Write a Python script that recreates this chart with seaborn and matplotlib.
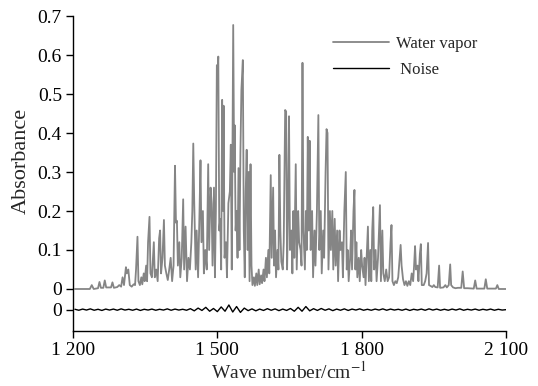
import numpy as np
import pandas as pd
import matplotlib
matplotlib.use("Agg")
import matplotlib.pyplot as plt
import seaborn as sns

# water vapor spectrum (peaks and troughs)
vapor_wn = [1204, 1235, 1239, 1243, 1252, 1255, 1258, 1263, 1266, 1269, 1279, 1282, 1285,
            1292, 1296, 1300, 1303, 1306, 1310, 1312, 1315, 1318, 1322, 1326, 1329, 1331,
            1333, 1334, 1336, 1339, 1342, 1344, 1347, 1349, 1352, 1354, 1356, 1359, 1361,
            1364, 1368, 1370, 1373, 1376, 1379, 1381, 1383, 1386, 1389, 1391, 1394, 1397,
            1400, 1403, 1406, 1409, 1412, 1414, 1416, 1418, 1421, 1423, 1426, 1429, 1431,
            1434, 1437, 1440, 1443, 1446, 1448, 1450, 1452, 1455, 1457, 1460, 1463, 1465,
            1467, 1470, 1472, 1475, 1478, 1481, 1483, 1486, 1488, 1490, 1493, 1495, 1497,
            1499, 1501, 1502, 1504, 1506, 1508, 1510, 1512, 1513, 1515, 1518, 1520, 1523,
            1526, 1528, 1530, 1533, 1535, 1536, 1538, 1540, 1542, 1544, 1546, 1548, 1550,
            1553, 1555, 1557, 1559, 1561, 1563, 1565, 1567, 1569, 1571, 1573, 1576, 1578,
            1581, 1583, 1586, 1588, 1591, 1593, 1596, 1598, 1601, 1603, 1606, 1608, 1611,
            1613, 1616, 1618, 1620, 1622, 1625, 1627, 1629, 1631, 1633, 1636, 1638, 1641,
            1643, 1645, 1647, 1649, 1651, 1654, 1656, 1658, 1660, 1663, 1665, 1668, 1670,
            1673, 1675, 1677, 1679, 1682, 1684, 1686, 1688, 1690, 1692, 1694, 1697, 1699,
            1702, 1704, 1707, 1710, 1712, 1715, 1717, 1720, 1722, 1725, 1727, 1729, 1731,
            1734, 1736, 1739, 1741, 1744, 1746, 1749, 1751, 1754, 1756, 1759, 1761, 1764,
            1767, 1769, 1771, 1773, 1776, 1778, 1780, 1783, 1785, 1787, 1789, 1791, 1794,
            1796, 1799, 1801, 1804, 1806, 1808, 1811, 1813, 1815, 1818, 1820, 1822, 1824,
            1826, 1829, 1831, 1834, 1836, 1838, 1840, 1843, 1845, 1848, 1851, 1854, 1857,
            1860, 1862, 1864, 1867, 1870, 1873, 1876, 1879, 1881, 1883, 1886, 1889, 1892,
            1895, 1898, 1901, 1904, 1907, 1909, 1911, 1913, 1916, 1918, 1921, 1923, 1925,
            1929, 1932, 1935, 1938, 1940, 1943, 1947, 1950, 1953, 1958, 1961, 1963, 1970,
            1974, 1977, 1981, 1984, 1986, 1990, 1995, 2000, 2007, 2010, 2013, 2020, 2033,
            2036, 2039, 2055, 2058, 2061, 2079, 2082, 2085, 2104]
vapor_abs = [0.0, 0.0, 0.01, 0.0, 0.002, 0.018, 0.003, 0.003, 0.022, 0.004, 0.004, 0.017, 0.003,
             0.005, 0.01, 0.006, 0.03, 0.01, 0.056, 0.04, 0.05, 0.01, 0.006, 0.012, 0.01, 0.05,
             0.105, 0.134, 0.02, 0.01, 0.03, 0.012, 0.04, 0.02, 0.06, 0.02, 0.12, 0.185, 0.04,
             0.03, 0.12, 0.03, 0.05, 0.02, 0.13, 0.15, 0.04, 0.08, 0.177, 0.06, 0.04, 0.023,
             0.05, 0.08, 0.02, 0.06, 0.316, 0.17, 0.175, 0.06, 0.12, 0.03, 0.08, 0.23, 0.05,
             0.16, 0.02, 0.08, 0.05, 0.12, 0.2, 0.373, 0.22, 0.05, 0.15, 0.03, 0.2, 0.33,
             0.12, 0.2, 0.04, 0.1, 0.05, 0.32, 0.1, 0.26, 0.22, 0.06, 0.26, 0.03, 0.2,
             0.574, 0.57, 0.596, 0.15, 0.18, 0.05, 0.485, 0.2, 0.47, 0.08, 0.12, 0.03, 0.22,
             0.25, 0.37, 0.05, 0.677, 0.3, 0.42, 0.15, 0.2, 0.08, 0.31, 0.1, 0.35, 0.51,
             0.587, 0.15, 0.03, 0.25, 0.357, 0.1, 0.3, 0.02, 0.32, 0.06, 0.01, 0.03, 0.008,
             0.04, 0.01, 0.05, 0.012, 0.035, 0.015, 0.05, 0.02, 0.08, 0.03, 0.1, 0.04, 0.292,
             0.08, 0.26, 0.06, 0.15, 0.03, 0.1, 0.05, 0.344, 0.15, 0.07, 0.05, 0.12, 0.459,
             0.455, 0.05, 0.2, 0.443, 0.1, 0.15, 0.04, 0.2, 0.08, 0.32, 0.05, 0.2, 0.12,
             0.1, 0.06, 0.58, 0.15, 0.05, 0.2, 0.1, 0.39, 0.15, 0.38, 0.1, 0.2, 0.03,
             0.15, 0.06, 0.2, 0.446, 0.1, 0.2, 0.04, 0.15, 0.08, 0.3, 0.41, 0.4, 0.05,
             0.2, 0.1, 0.2, 0.05, 0.18, 0.06, 0.15, 0.02, 0.15, 0.1, 0.12, 0.03, 0.2,
             0.30, 0.05, 0.1, 0.02, 0.08, 0.15, 0.05, 0.2, 0.254, 0.05, 0.12, 0.03, 0.08,
             0.02, 0.1, 0.06, 0.03, 0.08, 0.01, 0.1, 0.16, 0.02, 0.1, 0.02, 0.15, 0.21,
             0.05, 0.1, 0.02, 0.08, 0.15, 0.215, 0.02, 0.15, 0.04, 0.02, 0.05, 0.02, 0.03,
             0.12, 0.164, 0.02, 0.01, 0.02, 0.015, 0.03, 0.08, 0.113, 0.06, 0.025, 0.01, 0.02,
             0.008, 0.02, 0.01, 0.04, 0.02, 0.06, 0.11, 0.05, 0.06, 0.02, 0.09, 0.115, 0.01,
             0.01, 0.02, 0.04, 0.118, 0.01, 0.008, 0.005, 0.01, 0.005, 0.004, 0.06, 0.003, 0.004,
             0.01, 0.004, 0.01, 0.063, 0.01, 0.004, 0.002, 0.003, 0.003, 0.045, 0.002, 0.002, 0.001,
             0.022, 0.001, 0.001, 0.025, 0.001, 0.001, 0.01, 0.0, 0.0]

# noise trace, one value every 8 cm-1 from 1204, in milli-absorbance
noise_start, noise_step = 1204, 8
noise_milli = [1, -1.5, 1.5, -1, 2, -1.5, 1, -2, 1.5, -1, 1.5, -1.5, 2, -1, 1, -1.5, 1.5, -2, 1, -1,
               1.5, -1.5, 1, -1, 2, -1.5, 1.5, -1, 1, -1.5,
               2.5, -3, 4, -2, 6, -4, 3, -5, 7, -4, 12, -6, 8, -7, 4,
               -2.5, 2, -3, 1.5, -2, 2.5, -1.5, 2, -2.5, 1.5, -2, 3,
               -4, 6, -4, 8, -3,
               2.5, -2, 3, -1.5, 2, -2.5, 1.5, -1.5, 2, -2, 1.5, -1, 2, -1.5, 1, -1.5, 1.5, -1, 2, -1.5,
               1.5, -1, 1, -1.5, 1.5, -2, 1, -1, 1.5, -1.5, 2, -1, 1.5, -1.5, 1, -1.5, 1.5, -1, 2, -1.5,
               1, -1, 1.5, -1.5, 1, -1, 1.5, -1.5, 1, -1, 0]

x_ticks = [1200, 1500, 1800, 2100]
x_tick_labels = ["1 200", "1 500", "1 800", "2 100"]
y_ticks = [0, 0.1, 0.2, 0.3, 0.4, 0.5, 0.6, 0.7]
y_tick_labels = ["0", "0.1", "0.2", "0.3", "0.4", "0.5", "0.6", "0.7"]

noise_offset = -0.053

vapor_df = pd.DataFrame({"wn": vapor_wn, "absorbance": vapor_abs})
noise_df = pd.DataFrame({
    "wn": noise_start + noise_step * np.arange(len(noise_milli)),
    "absorbance": np.array(noise_milli) / 1000.0,
})
noise_df["shifted"] = noise_df["absorbance"] + noise_offset

sns.set_style("ticks")
plt.rcParams["font.family"] = ["Liberation Serif", "DejaVu Serif"]
plt.rcParams["mathtext.fontset"] = "stix"

fig = plt.figure(figsize=(5.38, 3.86), dpi=100)
ax = fig.add_axes([0.1357, 0.1425, 0.8048, 0.816])

sns.lineplot(data=vapor_df, x="wn", y="absorbance", ax=ax, color="#858585",
             lw=1.3, estimator=None, sort=False, label="Water vapor")
sns.lineplot(data=noise_df, x="wn", y="shifted", ax=ax, color="black",
             lw=1.0, estimator=None, sort=False, label=" Noise")

ax.set_xlim(1200, 2100)
ax.set_ylim(-0.1077, 0.7)
ax.set_xticks(x_ticks)
ax.set_xticklabels(x_tick_labels)
ax.set_yticks(y_ticks + [noise_offset])
ax.set_yticklabels(y_tick_labels + ["0"])
ax.tick_params(axis="both", direction="out", length=5, width=1, labelsize=14,
               color="black", labelcolor="black", pad=3)
for side in ["top", "right"]:
    ax.spines[side].set_visible(False)
for side in ["left", "bottom"]:
    ax.spines[side].set_color("black")
    ax.spines[side].set_linewidth(1)

ax.set_xlabel("Wave number/cm$^{-1}$", fontsize=14, labelpad=1)
ax.set_ylabel("Absorbance", fontsize=16)
ax.yaxis.set_label_coords(-0.098, 0.54)

ax.legend(loc="upper left", bbox_to_anchor=(0.60, 0.937), frameon=False,
          fontsize=12, handlelength=3.4, handletextpad=0.4, labelspacing=0.6,
          borderpad=0, borderaxespad=0)

fig.savefig("out.png", dpi=100)
